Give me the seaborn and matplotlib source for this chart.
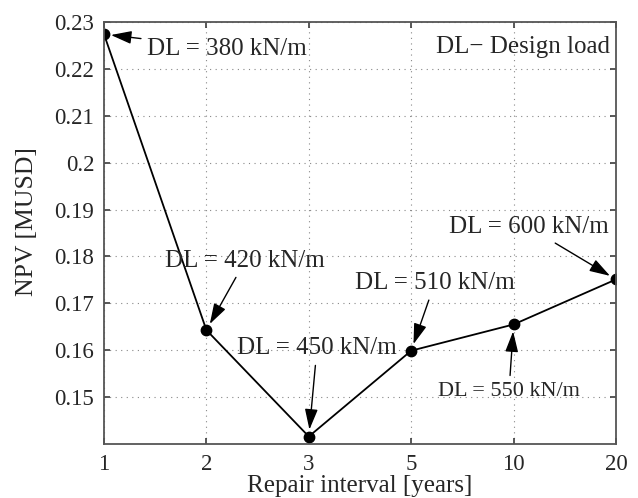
import numpy as np
import pandas as pd
import seaborn as sns
import matplotlib.pyplot as plt

# Data
intervals = ["1", "2", "3", "5", "10", "20"]
npv = [0.2274, 0.1643, 0.1416, 0.1599, 0.1655, 0.1751]
design_loads = ["380", "420", "450", "510", "550", "600"]

df = pd.DataFrame({"interval": intervals, "npv": npv, "dl": design_loads})

sns.set_theme(style="ticks")
plt.rcParams["font.family"] = ["Liberation Serif", "DejaVu Serif"]

fig = plt.figure(figsize=(6.38, 4.98), dpi=100)
ax = fig.add_axes([0.163, 0.1084, 0.8025, 0.8474])

sns.pointplot(
    data=df, x="interval", y="npv", order=intervals,
    color="black", markers="o", linestyles="-",
    errorbar=None, markersize=7.5, linewidth=1.3, ax=ax
)

ax.set_xlim(0, len(intervals) - 1)
ax.set_ylim(0.14, 0.23)
ax.set_yticks([0.15, 0.16, 0.17, 0.18, 0.19, 0.2, 0.21, 0.22, 0.23])
ax.set_yticklabels(["0.15", "0.16", "0.17", "0.18", "0.19", "0.2", "0.21", "0.22", "0.23"])

ax.grid(True, linestyle=(0, (1, 4)), color="#888888", linewidth=0.8)
ax.tick_params(direction="in", length=4, top=True, right=True,
               labelsize=16.5, color="#444444", pad=7)
for s in ax.spines.values():
    s.set_color("#555555")
    s.set_linewidth(1.3)

ax.set_xlabel("Repair interval [years]", fontsize=18, labelpad=0)
ax.set_ylabel("NPV [MUSD]", fontsize=18.5)
ax.yaxis.set_label_coords(-0.128, 0.528)

# annotation text positions (data coords) per point
label_pos = [(0.42, 0.2243, "left"), (1.38, 0.1791, "center"), (2.08, 0.1604, "center"),
             (3.23, 0.1743, "center"), (3.955, 0.1513, "center"), (4.15, 0.1862, "center")]
label_size = [18, 18, 18, 18, 16, 18]
arrow = dict(arrowstyle="-|>,head_length=0.7,head_width=0.22", color="black",
             lw=1.0, mutation_scale=18, shrinkA=2, shrinkB=5)
for i, (tx, ty, ha) in enumerate(label_pos):
    ax.annotate(f"DL = {design_loads[i]} kN/m", xy=(i, npv[i]), xytext=(tx, ty),
                ha=ha, va="center", fontsize=label_size[i], arrowprops=arrow)

ax.text(0.988, 0.94, "DL\u2212 Design load", transform=ax.transAxes,
        ha="right", va="center", fontsize=18)

fig.savefig("out.png", dpi=100)
